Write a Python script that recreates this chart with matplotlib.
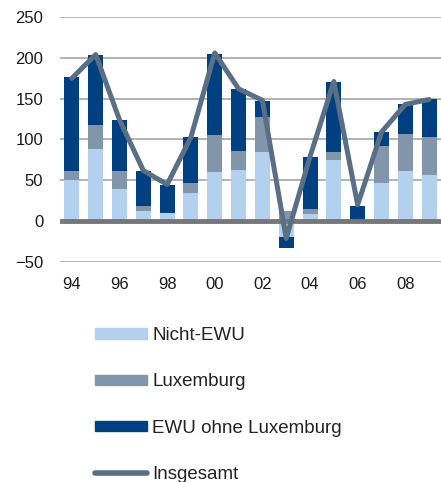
import numpy as np
import matplotlib
matplotlib.use("Agg")
import matplotlib.pyplot as plt
from matplotlib.patches import Patch
from matplotlib.lines import Line2D

plt.rcParams['font.family'] = ['Liberation Sans', 'DejaVu Sans']

years = list(range(1994, 2010))
tick_labels = ["94", "96", "98", "00", "02", "04", "06", "08"]
nicht_ewu = [50, 88, 39, 12, 10, 35, 60, 63, 85, -19, 9, 75, 0, 47, 61, 57]
luxemburg = [12, 30, 22, 6, 0, 12, 45, 23, 42, 12, 6.5, 10, 0, 45, 46, 46]
ewu_ohne_lux = [114, 85, 63, 44, 34.5, 56, 100, 75.5, 20, -14, 63.5, 85, 18, 17, 36, 46]
insgesamt = [175, 204, 124, 62, 45, 103, 206, 162, 148, -21, 79, 171, 20, 109, 143, 149]

c_light = "#b3d0ee"
c_grey = "#8196ab"
c_dark = "#003f80"
c_line = "#5a6f85"

fig = plt.figure(figsize=(4.41, 4.82), dpi=100)
ax = fig.add_axes([60/441, 1-262/482, 381/441, 245/482])

x = np.arange(len(years))
pos_b = np.zeros(len(years))
neg_b = np.zeros(len(years))
for vals, col in [(nicht_ewu, c_light), (luxemburg, c_grey), (ewu_ohne_lux, c_dark)]:
    v = np.array(vals, dtype=float)
    bottom = np.where(v >= 0, pos_b, neg_b)
    ax.bar(x, v, width=0.63, bottom=bottom, color=col, zorder=2)
    pos_b = pos_b + np.where(v >= 0, v, 0)
    neg_b = neg_b + np.where(v < 0, v, 0)

ax.plot(x, insgesamt, color=c_line, lw=3.6, zorder=4, solid_joinstyle='round', solid_capstyle='round')

ax.set_xlim(-0.5, 15.5)
ax.set_ylim(-50, 250)
ax.set_yticks([-50, 0, 50, 100, 150, 200, 250])
ax.set_xticks(x[::2])
ax.set_xticklabels(tick_labels)
for y in [-50, 50, 100, 150, 200, 250]:
    ax.axhline(y, color="#a6a6a6", lw=1.2, zorder=0)
ax.axhline(0, color="#777777", lw=3.5, zorder=3)
for s in ax.spines.values():
    s.set_visible(False)
ax.tick_params(axis='both', length=0, labelsize=12, labelcolor="#1a1a1a")
ax.tick_params(axis='y', pad=12)
ax.tick_params(axis='x', pad=10.5)

handles = [Patch(color=c_light), Patch(color=c_grey), Patch(color=c_dark),
           Line2D([0], [0], color=c_line, lw=4, solid_capstyle='round')]
labels = ["Nicht-EWU", "Luxemburg", "EWU ohne Luxemburg", "Insgesamt"]
fig.legend(handles, labels, loc='upper left', bbox_to_anchor=(95/441, 1-327/482),
           frameon=False, fontsize=13.5, handlelength=2.75, handleheight=0.48,
           handletextpad=0.3, labelspacing=1.57, borderpad=0, borderaxespad=0,
           labelcolor="#222222")

fig.savefig("out.png", dpi=100)
